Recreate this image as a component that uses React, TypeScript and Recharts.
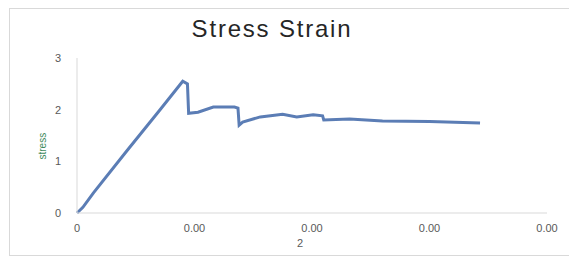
import React from 'react'
import { LineChart, Line, XAxis, YAxis } from 'recharts'

const strain = [
  0, 0.00005, 0.00014, 0.00043, 0.0007, 0.0009, 0.00094, 0.00095, 0.00103, 0.00116, 0.00134, 0.00137,
  0.00138, 0.00141, 0.00156, 0.00175, 0.00187, 0.00201, 0.00209, 0.0021, 0.00232, 0.0026, 0.003, 0.00343,
]
const stress = [
  0, 0.11, 0.39, 1.22, 1.98, 2.55, 2.5, 1.93, 1.95, 2.05, 2.05, 2.03, 1.7, 1.76, 1.86, 1.91, 1.86, 1.9,
  1.88, 1.8, 1.82, 1.78, 1.77, 1.74,
]
const xTicks = [0, 0.001, 0.002, 0.003, 0.004]
const yTicks = [0, 1, 2, 3]

const data = strain.map((s, i) => ({ strain: s, stress: stress[i] }))

const font = '"Liberation Sans", Arial, sans-serif'

export default function App() {
  return (
    <div style={{ position: 'relative', width: 569, height: 258, overflow: 'hidden', fontFamily: font }}>
      {/* chart frame, runs off the right edge like the screenshot */}
      <div
        style={{
          position: 'absolute',
          left: 1,
          top: 0,
          width: 620,
          height: 246,
          border: '1px solid #d9d9d9',
        }}
      />
      <div
        style={{
          position: 'absolute',
          left: 0,
          width: 528,
          top: 7,
          textAlign: 'center',
          fontSize: 24,
          letterSpacing: 1.8,
          color: '#262626',
        }}
      >
        Stress Strain
      </div>
      <LineChart
        width={569}
        height={258}
        data={data}
        margin={{ top: 50, right: 30, left: 0, bottom: 23 }}
        style={{ position: 'absolute', left: 0, top: 0 }}
      >
        <XAxis
          dataKey="strain"
          type="number"
          domain={[0, 0.004]}
          ticks={xTicks}
          tickFormatter={(v: number) => (v === 0 ? '0' : v.toFixed(2))}
          tickLine={false}
          tickMargin={5}
          height={30}
          stroke="#d9d9d9"
          tick={{ fill: '#595959', fontSize: 11, fontFamily: font }}
          label={{ value: '2', position: 'insideBottom', offset: -4, dx: -12, fill: '#595959', fontSize: 11 }}
        />
        <YAxis
          type="number"
          domain={[0, 3]}
          ticks={yTicks}
          tickLine={false}
          tickMargin={10}
          width={69}
          stroke="#d9d9d9"
          tick={{ fill: '#595959', fontSize: 11, fontFamily: font }}
          label={{ value: 'stress', angle: -90, position: 'insideLeft', offset: 34, dy: 24, fill: '#3d8a5b', fontSize: 10 }}
        />
        <Line
          type="linear"
          dataKey="stress"
          stroke="#5b7db5"
          strokeWidth={3}
          dot={false}
          isAnimationActive={false}
        />
      </LineChart>
    </div>
  )
}
